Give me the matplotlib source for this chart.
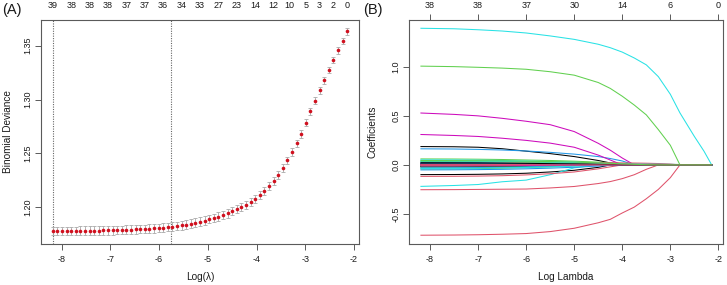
import matplotlib
matplotlib.use("Agg")
import matplotlib.pyplot as plt
import numpy as np

plt.rcParams['font.family'] = ['Liberation Sans', 'DejaVu Sans']

# ---------------- Panel A data (cv.glmnet) ----------------
log_lambda = [-8.185, -8.091, -7.996, -7.902, -7.807, -7.713, -7.618, -7.524, -7.429, -7.335,
              -7.240, -7.146, -7.051, -6.957, -6.862, -6.768, -6.673, -6.579, -6.484, -6.390,
              -6.295, -6.201, -6.106, -6.012, -5.917, -5.823, -5.728, -5.634, -5.539, -5.445,
              -5.350, -5.256, -5.161, -5.067, -4.972, -4.878, -4.783, -4.689, -4.594, -4.500,
              -4.405, -4.311, -4.216, -4.122, -4.027, -3.933, -3.838, -3.744, -3.649, -3.555,
              -3.460, -3.366, -3.271, -3.177, -3.082, -2.988, -2.893, -2.799, -2.704, -2.610,
              -2.515, -2.421, -2.326, -2.232, -2.137]
deviance = [1.1781, 1.1781, 1.1781, 1.1781, 1.1781, 1.1781, 1.1782, 1.1782, 1.1783,
            1.1783, 1.1784, 1.1785, 1.1786, 1.1787, 1.1789, 1.1790, 1.1792, 1.1794,
            1.1796, 1.1798, 1.1800, 1.1803, 1.1806, 1.1809, 1.1812, 1.1816, 1.1821,
            1.1827, 1.1833, 1.1840, 1.1849, 1.1858, 1.1868, 1.1877, 1.1889, 1.1901,
            1.1914, 1.1929, 1.1944, 1.1963, 1.1981, 1.2003, 1.2025, 1.2053, 1.2081,
            1.2114, 1.2151, 1.2194, 1.2241, 1.2299, 1.2364, 1.2435, 1.2512, 1.2593,
            1.2680, 1.2785, 1.2890, 1.2990, 1.3085, 1.3180, 1.3275, 1.3370, 1.3457, 1.3545, 1.3633]
deviance_sd = [0.0040, 0.0040, 0.0040, 0.0040, 0.0040, 0.0040, 0.0040, 0.0040, 0.0040,
               0.0040, 0.0040, 0.0040, 0.0040, 0.0040, 0.0040, 0.0040, 0.0040, 0.0040,
               0.0040, 0.0040, 0.0040, 0.0040, 0.0040, 0.0040, 0.0040, 0.0040, 0.0040,
               0.0040, 0.0040, 0.0040, 0.0040, 0.0040, 0.0040, 0.0039, 0.0039, 0.0039,
               0.0039, 0.0039, 0.0039, 0.0038, 0.0038, 0.0038, 0.0038, 0.0038, 0.0038,
               0.0037, 0.0037, 0.0037, 0.0036, 0.0036, 0.0036, 0.0035, 0.0035, 0.0034,
               0.0034, 0.0033, 0.0033, 0.0032, 0.0032, 0.0031, 0.0031, 0.0030, 0.0030, 0.0029, 0.0029]
cv_vlines = [-8.185, -5.75]
a_top_pos = [-8.185, -7.807, -7.429, -7.051, -6.673, -6.295, -5.917, -5.539, -5.161,
             -4.783, -4.405, -4.027, -3.649, -3.330, -2.988, -2.704, -2.421, -2.137]
a_top_labels = ['39', '38', '38', '38', '37', '37', '36', '34', '33',
                '27', '23', '14', '12', '10', '5', '3', '2', '0']
a_xticks = [-8, -7, -6, -5, -4, -3, -2]
a_yticks = [1.20, 1.25, 1.30, 1.35]

# ---------------- Panel B data (coefficient paths) ----------------
path_lambda = [-8.19, -7.5, -7.0, -6.5, -6.0, -5.5, -5.0, -4.5, -4.25, -4.0,
               -3.75, -3.5, -3.25, -3.0, -2.8, -2.5, -2.3, -2.14]
coef_paths = [
    [0.187, 0.185, 0.180, 0.165, 0.140, 0.115, 0.085, 0.045, 0.020, 0, 0, 0, 0, 0, 0, 0, 0, 0],
    [-0.717, -0.715, -0.712, -0.707, -0.700, -0.680, -0.646, -0.590, -0.555, -0.490, -0.430, -0.345, -0.250, -0.130, 0, 0, 0, 0],
    [1.007, 1.002, 0.995, 0.987, 0.975, 0.950, 0.915, 0.840, 0.780, 0.700, 0.610, 0.510, 0.360, 0.200, 0, 0, 0, 0],
    [0.164, 0.162, 0.158, 0.152, 0.142, 0.128, 0.110, 0.085, 0.065, 0.040, 0, 0, 0, 0, 0, 0, 0, 0],
    [1.393, 1.388, 1.378, 1.365, 1.345, 1.315, 1.280, 1.230, 1.195, 1.150, 1.090, 1.020, 0.900, 0.720, 0.530, 0.290, 0.140, 0],
    [0.529, 0.515, 0.500, 0.475, 0.445, 0.410, 0.340, 0.220, 0.150, 0.070, 0, 0, 0, 0, 0, 0, 0, 0],
    [-0.099, -0.098, -0.096, -0.092, -0.085, -0.072, -0.055, -0.025, 0, 0, 0, 0, 0, 0, 0, 0, 0, 0],
    [-0.253, -0.252, -0.250, -0.248, -0.246, -0.235, -0.220, -0.190, -0.170, -0.140, -0.100, -0.045, 0, 0, 0, 0, 0, 0],
    [0.061, 0.060, 0.058, 0.055, 0.050, 0.045, 0.038, 0.028, 0.022, 0.015, 0.008, 0, 0, 0, 0, 0, 0, 0],
    [0.027, 0.026, 0.024, 0.020, 0.014, 0.006, 0, 0, 0, 0, 0, 0, 0, 0, 0, 0, 0, 0],
    [-0.219, -0.210, -0.200, -0.172, -0.155, -0.100, -0.030, 0, 0, 0, 0, 0, 0, 0, 0, 0, 0, 0],
    [0.310, 0.300, 0.290, 0.272, 0.250, 0.222, 0.180, 0.100, 0.050, 0, 0, 0, 0, 0, 0, 0, 0, 0],
    [-0.017, -0.016, -0.014, -0.010, -0.005, 0, 0, 0, 0, 0, 0, 0, 0, 0, 0, 0, 0, 0],
    [-0.117, -0.116, -0.114, -0.110, -0.102, -0.090, -0.072, -0.040, -0.020, 0, 0, 0, 0, 0, 0, 0, 0, 0],
    [-0.041, -0.040, -0.038, -0.034, -0.028, -0.020, -0.010, 0, 0, 0, 0, 0, 0, 0, 0, 0, 0, 0],
    [0.010, 0.008, 0.005, 0, 0, 0, 0, 0, 0, 0, 0, 0, 0, 0, 0, 0, 0, 0],
    [0.051, 0.050, 0.048, 0.045, 0.040, 0.035, 0.028, 0.018, 0.012, 0.006, 0, 0, 0, 0, 0, 0, 0, 0],
    [0.003, 0, 0, 0, 0, 0, 0, 0, 0, 0, 0, 0, 0, 0, 0, 0, 0, 0],
    [-0.007, -0.006, -0.005, -0.003, -0.001, 0, 0, 0, 0, 0, 0, 0, 0, 0, 0, 0, 0, 0],
    [0.015, 0.015, 0.016, 0.017, 0.018, 0.019, 0.020, 0.021, 0.021, 0.020, 0.019, 0.017, 0.014, 0.008, 0, 0, 0, 0],
    [-0.024, -0.023, -0.022, -0.019, -0.015, -0.010, -0.004, 0, 0, 0, 0, 0, 0, 0, 0, 0, 0, 0],
    [-0.051, -0.050, -0.048, -0.045, -0.040, -0.033, -0.024, -0.012, -0.005, 0, 0, 0, 0, 0, 0, 0, 0, 0],
    [0.006, 0.006, 0.007, 0.008, 0.009, 0.010, 0.011, 0.012, 0.012, 0.011, 0.010, 0.009, 0.008, 0.006, 0.004, 0, 0, 0],
    [0.004, 0.004, 0.003, 0.002, 0.001, 0, 0, 0, 0, 0, 0, 0, 0, 0, 0, 0, 0, 0],
    [-0.017, -0.017, -0.016, -0.015, -0.013, -0.010, -0.006, -0.002, 0, 0, 0, 0, 0, 0, 0, 0, 0, 0],
    [-0.005, -0.005, -0.004, -0.003, -0.002, 0, 0, 0, 0, 0, 0, 0, 0, 0, 0, 0, 0, 0],
    [0.035, 0.034, 0.033, 0.031, 0.028, 0.024, 0.019, 0.012, 0.007, 0.003, 0, 0, 0, 0, 0, 0, 0, 0],
    [-0.030, -0.029, -0.027, -0.024, -0.019, -0.013, -0.006, 0, 0, 0, 0, 0, 0, 0, 0, 0, 0, 0],
    [0.040, 0.039, 0.038, 0.036, 0.033, 0.029, 0.024, 0.016, 0.010, 0.005, 0, 0, 0, 0, 0, 0, 0, 0],
    [0.008, 0.008, 0.007, 0.006, 0.004, 0.002, 0.001, 0, 0, 0, 0, 0, 0, 0, 0, 0, 0, 0],
    [0.012, 0.011, 0.010, 0.008, 0.006, 0.003, 0, 0, 0, 0, 0, 0, 0, 0, 0, 0, 0, 0],
    [0.002, 0.002, 0.003, 0.004, 0.005, 0.006, 0.007, 0.008, 0.008, 0.008, 0.008, 0.007, 0.006, 0.005, 0.004, 0.003, 0.001, 0],
    [-0.012, -0.012, -0.011, -0.010, -0.008, -0.005, -0.002, 0, 0, 0, 0, 0, 0, 0, 0, 0, 0, 0],
    [0.020, 0.019, 0.018, 0.016, 0.013, 0.010, 0.006, 0.002, 0, 0, 0, 0, 0, 0, 0, 0, 0, 0],
    [-0.036, -0.035, -0.033, -0.030, -0.026, -0.020, -0.013, -0.005, 0, 0, 0, 0, 0, 0, 0, 0, 0, 0],
    [-0.010, -0.010, -0.009, -0.008, -0.006, -0.004, -0.002, 0, 0, 0, 0, 0, 0, 0, 0, 0, 0, 0],
    [0.022, 0.021, 0.020, 0.018, 0.016, 0.013, 0.010, 0.006, 0.003, 0, 0, 0, 0, 0, 0, 0, 0, 0],
    [-0.002, -0.002, -0.001, -0.001, 0, 0, 0, 0, 0, 0, 0, 0, 0, 0, 0, 0, 0, 0],
    [0.045, 0.044, 0.043, 0.041, 0.038, 0.034, 0.029, 0.021, 0.016, 0.011, 0.006, 0.002, 0, 0, 0, 0, 0, 0],
]
b_top_pos = [-8, -7, -6, -5, -4, -3, -2]
b_top_labels = ['38', '38', '37', '30', '14', '6', '0']
b_xticks = [-8, -7, -6, -5, -4, -3, -2]
b_yticks = [-0.5, 0.0, 0.5, 1.0]

r_palette = ['#000000', '#DF536B', '#61D04F', '#2297E6', '#28E2E5', '#CD0BBC']

# ---------------- figure ----------------
W, H = 727, 285
fig = plt.figure(figsize=(W / 100, H / 100), dpi=100)

def px_axes(l, t, r, b):
    return fig.add_axes([l / W, 1 - b / H, (r - l) / W, (b - t) / H])

box_col = '#5a5a5a'
txt_col = '#1a1a1a'
tick_fs = 6.5
lab_fs = 7.2

def style(ax):
    for s in ax.spines.values():
        s.set_color(box_col)
        s.set_linewidth(0.8)
    ax.tick_params(axis='both', direction='out', length=4.0, width=0.7, color=box_col,
                   labelsize=tick_fs, labelcolor=txt_col, pad=4.5)
    ax.tick_params(axis='y', pad=2.5)
    for lbl in ax.get_yticklabels():
        lbl.set_rotation(90)
        lbl.set_va('center')

def r_lim(lo, hi):
    d = (hi - lo) * 0.04
    return lo - d, hi + d

# ---- Panel A ----
axA = px_axes(41, 20, 359, 243.5)
ll = np.array(log_lambda)
dv = np.array(deviance)
sd = np.array(deviance_sd)
axA.errorbar(ll, dv, yerr=sd, fmt='none', ecolor='#a9a9a9', elinewidth=0.6,
             capsize=1.6, capthick=0.6, zorder=2)
axA.plot(ll, dv, 'o', color='#d0101e', markersize=2.6, markeredgewidth=0, zorder=3)
for v in cv_vlines:
    axA.axvline(v, color='#666666', lw=0.8, linestyle=(0, (1, 1.2)), zorder=1)
axA.set_xlim(*r_lim(ll.min(), ll.max()))
axA.set_ylim(*r_lim((dv - sd).min(), (dv + sd).max()))
axA.set_xticks(a_xticks)
axA.set_xticklabels([str(t) for t in a_xticks])
axA.set_yticks(a_yticks)
axA.set_yticklabels(['%.2f' % t for t in a_yticks])
style(axA)
topA = axA.secondary_xaxis('top')
topA.set_xticks(a_top_pos)
topA.set_xticklabels(a_top_labels)
topA.tick_params(length=0, pad=7.5, labelsize=tick_fs, labelcolor=txt_col)
topA.spines['top'].set_visible(False)

fig.text(200 / W, 1 - 277 / H, 'Log(λ)', ha='center', va='center', fontsize=lab_fs, color=txt_col)
fig.text(8 / W, 1 - 132 / H, 'Binomial Deviance', ha='center', va='center', rotation=90,
         fontsize=lab_fs, color=txt_col)
fig.text(2 / W, 1 - 10 / H, '(A)', ha='left', va='center', fontsize=10.5, color=txt_col)

# ---- Panel B ----
axB = px_axes(409.3, 20, 723.3, 243.5)
pl = np.array(path_lambda)
allc = np.array(coef_paths)
for j, row in enumerate(coef_paths):
    axB.plot(pl, row, color=r_palette[j % 6], lw=0.75, solid_joinstyle='round')
axB.set_xlim(*r_lim(pl.min(), pl.max()))
axB.set_ylim(*r_lim(allc.min(), allc.max()))
axB.set_xticks(b_xticks)
axB.set_xticklabels([str(t) for t in b_xticks])
axB.set_yticks(b_yticks)
axB.set_yticklabels(['%.1f' % t for t in b_yticks])
style(axB)
topB = axB.secondary_xaxis('top')
topB.set_xticks(b_top_pos)
topB.set_xticklabels(b_top_labels)
topB.tick_params(length=4.0, width=0.7, color=box_col, pad=3.5, labelsize=tick_fs, labelcolor=txt_col)
topB.spines['top'].set_visible(False)

fig.text(566 / W, 1 - 277 / H, 'Log Lambda', ha='center', va='center', fontsize=lab_fs, color=txt_col)
fig.text(372 / W, 1 - 132 / H, 'Coefficients', ha='center', va='center', rotation=90,
         fontsize=lab_fs, color=txt_col)
fig.text(363 / W, 1 - 10 / H, '(B)', ha='left', va='center', fontsize=10.5, color=txt_col)

fig.savefig('out.png', dpi=100)
